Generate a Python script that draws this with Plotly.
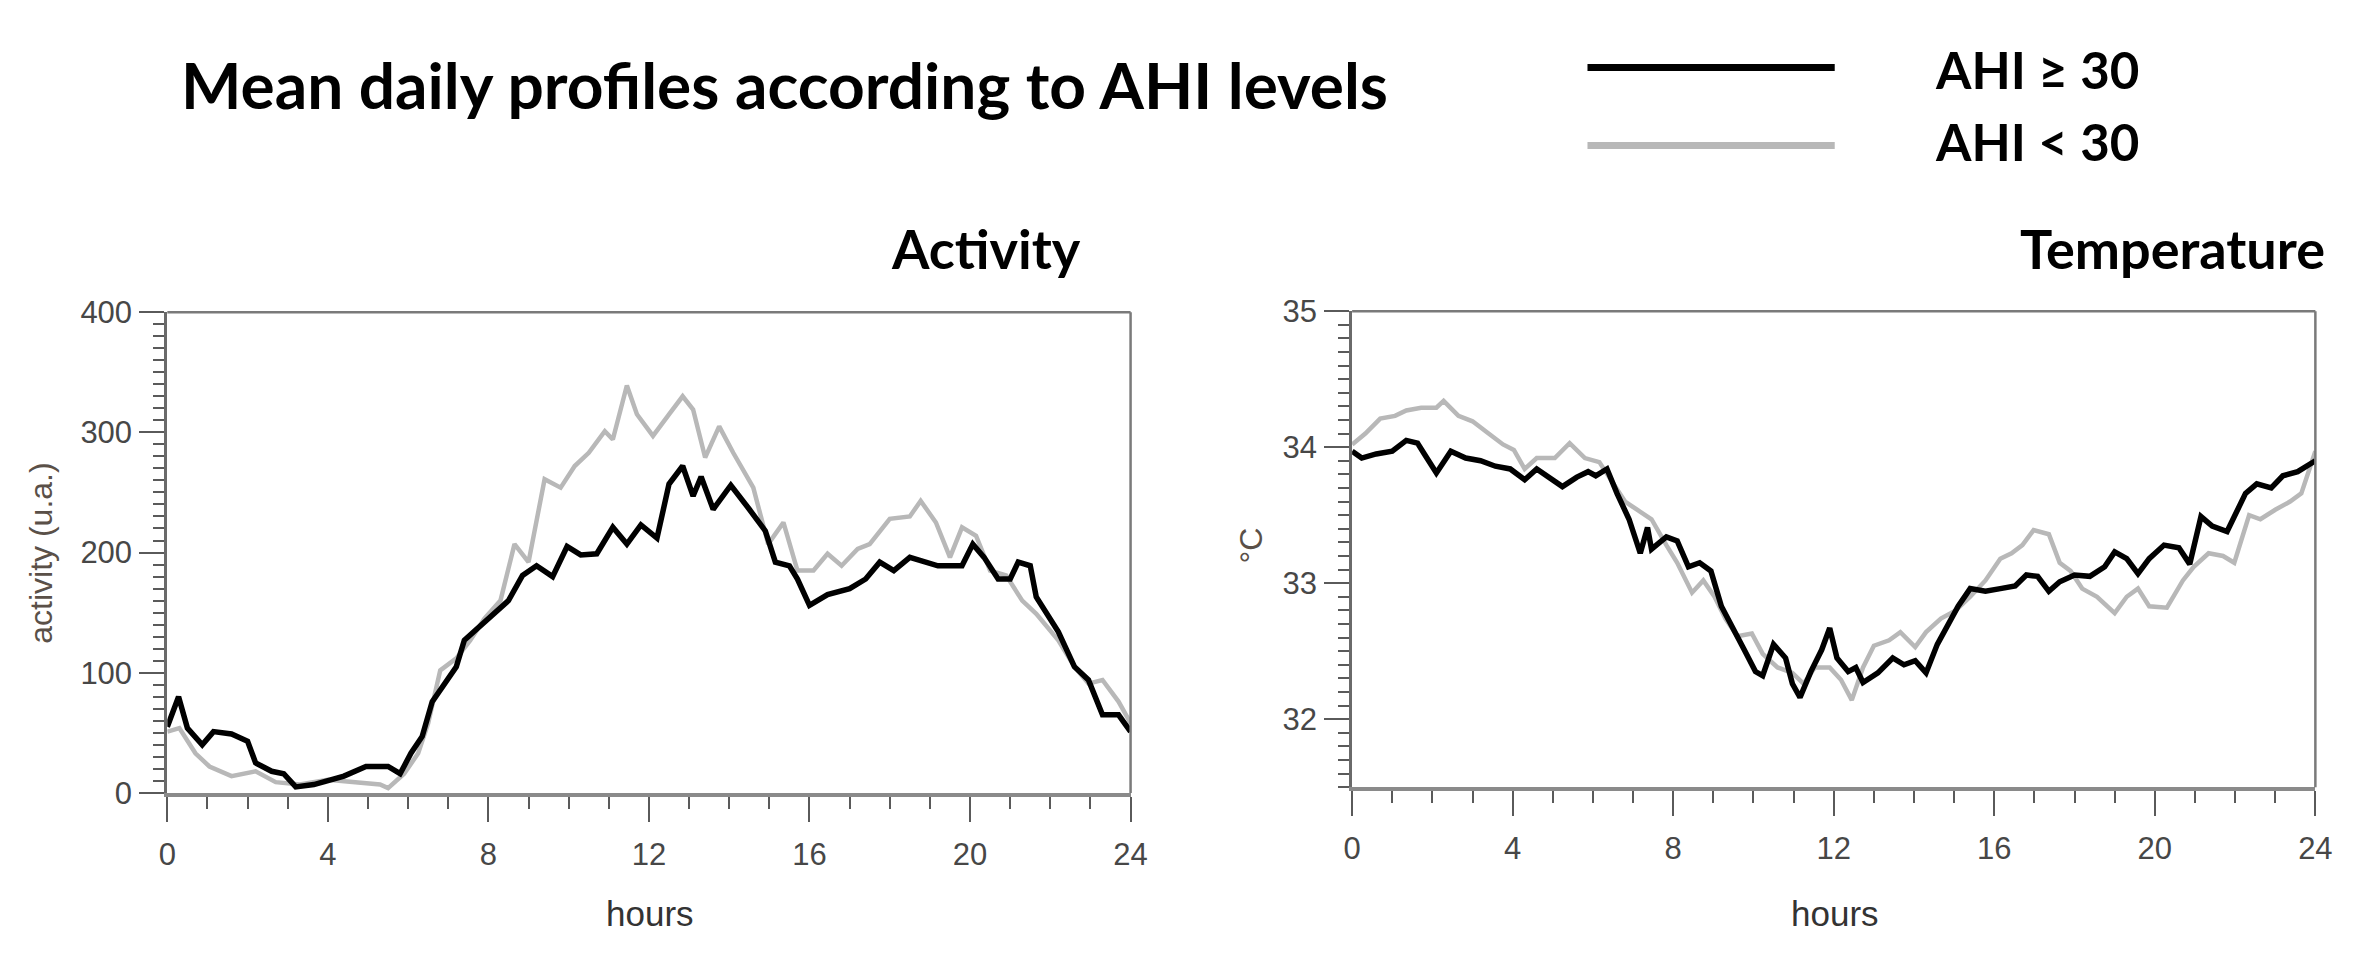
import plotly.graph_objects as go

# ---------------- data ----------------
act_hi_h = [0,0.28,0.5,0.87,1.15,1.6,2.0,2.2,2.6,2.9,3.2,3.65,4.4,4.95,5.5,5.8,6.07,6.35,6.6,6.9,
            7.2,7.4,7.75,8.1,8.5,8.85,9.2,9.6,9.96,10.3,10.7,11.1,11.45,11.8,12.2,12.5,12.84,13.1,13.3,13.6,
            14.04,14.5,14.9,15.15,15.5,15.7,16.0,16.45,17.0,17.4,17.75,18.1,18.5,19.2,19.8,20.07,20.35,20.7,21.0,21.2,
            21.5,21.65,21.9,22.2,22.6,22.95,23.3,23.7,24]
act_hi_v = [55,80,54,40,51,49,43,25,18,16,5,7,14,22,22,16,33,47,76,91,
            105,127,138,149,160,181,189,180,205,198,199,221,207,223,212,257,272,247,263,236,
            256,236,218,192,189,178,156,165,170,178,192,185,196,189,189,207,196,178,178,192,
            189,163,149,134,105,94,65,65,51]

act_lo_h = [0,0.3,0.7,1.05,1.6,2.2,2.7,3.3,4.0,4.77,5.3,5.5,5.9,6.25,6.5,6.8,7.2,7.55,7.9,8.3,
            8.65,9.0,9.4,9.8,10.15,10.5,10.9,11.1,11.45,11.7,12.1,12.5,12.84,13.1,13.4,13.75,14.1,14.6,14.97,15.35,
            15.7,16.1,16.45,16.8,17.2,17.5,18.0,18.5,18.77,19.15,19.5,19.8,20.15,20.5,20.9,21.3,21.65,22.2,22.6,22.95,
            23.3,23.7,24]
act_lo_v = [51,54,33,22,14,18,9,7,11,9,7,4,16,33,58,102,112,127,145,160,
            207,192,261,254,272,283,301,294,339,315,297,315,330,319,279,305,283,254,207,225,
            185,185,199,189,203,207,228,230,243,225,196,221,214,185,181,160,149,127,105,91,
            94,76,58]

tmp_hi_h = [0,0.24,0.6,1.0,1.35,1.63,1.8,2.1,2.46,2.83,3.2,3.57,3.94,4.3,4.6,4.87,5.24,5.6,5.88,6.07,
            6.35,6.6,6.9,7.18,7.36,7.46,7.83,8.1,8.38,8.66,8.94,9.2,9.5,9.77,10.05,10.23,10.5,10.8,10.97,11.16,
            11.43,11.7,11.9,12.08,12.36,12.55,12.73,13.1,13.47,13.75,14.03,14.3,14.58,14.86,15.1,15.4,15.78,16.15,16.52,16.8,
            17.08,17.36,17.63,18.0,18.38,18.75,19.0,19.3,19.58,19.86,20.23,20.6,20.87,21.15,21.43,21.8,22.08,22.26,22.54,22.9,
            23.19,23.56,24]
tmp_hi_v = [33.97,33.92,33.95,33.97,34.05,34.03,33.95,33.81,33.97,33.92,33.90,33.86,33.84,33.76,33.84,33.79,33.71,33.78,33.82,33.79,
            33.84,33.66,33.47,33.22,33.41,33.25,33.34,33.31,33.12,33.15,33.09,32.83,32.67,32.51,32.35,32.32,32.55,32.45,32.26,32.16,
            32.35,32.51,32.67,32.45,32.35,32.38,32.27,32.34,32.45,32.40,32.43,32.34,32.55,32.71,32.83,32.96,32.94,32.96,32.98,33.06,
            33.05,32.94,33.01,33.06,33.05,33.12,33.23,33.18,33.07,33.18,33.28,33.26,33.14,33.49,33.42,33.38,33.54,33.66,33.73,33.70,
            33.79,33.82,33.90]

tmp_lo_h = [0,0.33,0.7,1.07,1.35,1.72,2.1,2.28,2.65,3.0,3.4,3.76,4.03,4.3,4.6,5.05,5.42,5.8,6.16,6.53,
            6.8,7.1,7.46,7.83,8.1,8.47,8.75,9.03,9.3,9.6,9.96,10.23,10.6,10.97,11.25,11.53,11.9,12.18,12.45,12.73,
            13.0,13.38,13.66,14.03,14.3,14.67,15.04,15.4,15.78,16.15,16.43,16.7,16.98,17.36,17.63,17.9,18.19,18.56,19.0,19.3,
            19.58,19.86,20.3,20.7,20.97,21.34,21.7,21.98,22.35,22.63,23.0,23.37,23.65,24]
tmp_lo_v = [34.02,34.10,34.21,34.23,34.27,34.29,34.29,34.34,34.23,34.19,34.10,34.02,33.98,33.84,33.92,33.92,34.03,33.92,33.89,33.73,
            33.60,33.54,33.47,33.28,33.15,32.93,33.02,32.90,32.74,32.61,32.63,32.48,32.38,32.34,32.26,32.38,32.38,32.29,32.14,32.38,
            32.54,32.58,32.64,32.53,32.64,32.74,32.80,32.90,33.02,33.18,33.22,33.28,33.39,33.36,33.15,33.09,32.96,32.90,32.78,32.90,
            32.96,32.83,32.82,33.02,33.12,33.22,33.20,33.15,33.50,33.47,33.54,33.60,33.66,33.97]

series_names = ["AHI ≥ 30", "AHI < 30"]
x_ticks = [0, 4, 8, 12, 16, 20, 24]
act_ticks = [0, 100, 200, 300, 400]
tmp_ticks = [32, 33, 34, 35]

# ---------------- styling ----------------
W, H = 2357, 960
BLACK = "#000000"
GREY = "#b8b8b8"
TICKFONT = dict(family="Liberation Sans, Arial, sans-serif", size=31, color="#474747")
HEAD = "Lato, 'Open Sans', sans-serif"

fig = go.Figure()
fig.add_trace(go.Scatter(x=act_lo_h, y=act_lo_v, mode="lines", line=dict(color=GREY, width=4.5),
                         name=series_names[1], showlegend=False, xaxis="x", yaxis="y"))
fig.add_trace(go.Scatter(x=act_hi_h, y=act_hi_v, mode="lines", line=dict(color=BLACK, width=5.5),
                         name=series_names[0], showlegend=False, xaxis="x", yaxis="y"))
fig.add_trace(go.Scatter(x=tmp_lo_h, y=tmp_lo_v, mode="lines", line=dict(color=GREY, width=4.5),
                         name=series_names[1], showlegend=False, xaxis="x2", yaxis="y2"))
fig.add_trace(go.Scatter(x=tmp_hi_h, y=tmp_hi_v, mode="lines", line=dict(color=BLACK, width=5.5),
                         name=series_names[0], showlegend=False, xaxis="x2", yaxis="y2"))

def px_x(p):
    return p / W

def px_y(p):
    return 1 - p / H

xcommon = dict(range=[0, 24], tickvals=x_ticks, ticks="outside", ticklen=25, tickwidth=2,
               tickcolor="#5a5a5a", showline=True, linewidth=4, linecolor="#8a8a8a",
               showgrid=False, zeroline=False, tickfont=TICKFONT, ticklabelstandoff=6,
               minor=dict(dtick=1, ticks="outside", ticklen=12, tickwidth=2, tickcolor="#5a5a5a"))
ycommon = dict(ticks="outside", ticklen=25, tickwidth=2, tickcolor="#5a5a5a",
               showline=True, linewidth=3, linecolor="#6a6a6a", showgrid=False, zeroline=False,
               tickfont=TICKFONT, ticklabelstandoff=1)

fig.update_layout(
    width=W, height=H, margin=dict(l=0, r=0, t=0, b=0),
    paper_bgcolor="white", plot_bgcolor="white", showlegend=False,
    xaxis=dict(domain=[px_x(152), px_x(1126)], anchor="y", **xcommon),
    yaxis=dict(domain=[px_y(797), px_y(298)], anchor="x", range=[0, 400], tickvals=act_ticks,
               minor=dict(dtick=10, ticks="outside", ticklen=11, tickwidth=2, tickcolor="#5a5a5a"),
               **ycommon),
    xaxis2=dict(domain=[px_x(1350), px_x(2324)], anchor="y2", **xcommon),
    yaxis2=dict(domain=[px_y(791), px_y(297)], anchor="x2", range=[31.5, 35], tickvals=tmp_ticks,
                minor=dict(dtick=0.1, ticks="outside", ticklen=11, tickwidth=2, tickcolor="#5a5a5a"),
                **ycommon),
)

# frame (top + right) for each panel
for xr, yr in [("x domain", "y domain"), ("x2 domain", "y2 domain")]:
    fig.add_shape(type="line", xref=xr, yref=yr, x0=0, x1=1, y0=1, y1=1,
                  line=dict(color="#7a7a7a", width=2.5))
    fig.add_shape(type="line", xref=xr, yref=yr, x0=1, x1=1, y0=0, y1=1,
                  line=dict(color="#7a7a7a", width=2.5))

# legend keys (drawn manually at the top right)
fig.add_shape(type="line", xref="paper", yref="paper", x0=px_x(1588), x1=px_x(1838),
              y0=px_y(44), y1=px_y(44), line=dict(color=BLACK, width=7))
fig.add_shape(type="line", xref="paper", yref="paper", x0=px_x(1588), x1=px_x(1838),
              y0=px_y(125), y1=px_y(125), line=dict(color=GREY, width=7))

ann = []
ann.append(dict(text="<b>Mean daily profiles according to AHI levels</b>", x=px_x(164), y=px_y(62),
                xanchor="left", yanchor="middle", font=dict(family=HEAD, size=64, color="black")))
ann.append(dict(text="<b>" + series_names[0] + "</b>", x=px_x(1937), y=px_y(46),
                xanchor="left", yanchor="middle", font=dict(family=HEAD, size=51, color="black")))
ann.append(dict(text="<b>" + series_names[1] + "</b>", x=px_x(1937), y=px_y(121),
                xanchor="left", yanchor="middle", font=dict(family=HEAD, size=51, color="black")))
ann.append(dict(text="<b>Activity</b>", x=px_x(1078), y=px_y(232),
                xanchor="right", yanchor="middle", font=dict(family=HEAD, size=54, color="black")))
ann.append(dict(text="<b>Temperature</b>", x=px_x(2336), y=px_y(232),
                xanchor="right", yanchor="middle", font=dict(family=HEAD, size=54, color="black")))
ann.append(dict(text="hours", x=px_x(640), y=px_y(922), xanchor="center", yanchor="middle",
                font=dict(family="Liberation Sans, Arial, sans-serif", size=35, color="#333333")))
ann.append(dict(text="hours", x=px_x(1838), y=px_y(922), xanchor="center", yanchor="middle",
                font=dict(family="Liberation Sans, Arial, sans-serif", size=35, color="#333333")))
ann.append(dict(text="activity (u.a.)", x=px_x(24), y=px_y(548), xanchor="center", yanchor="middle",
                textangle=-90, font=dict(family="Liberation Sans, Arial, sans-serif", size=32, color="#5a5048")))
ann.append(dict(text="°C", x=px_x(1248), y=px_y(540), xanchor="center", yanchor="middle",
                textangle=-90, font=dict(family="Liberation Sans, Arial, sans-serif", size=32, color="#5a5048")))
for a in ann:
    a.update(xref="paper", yref="paper", showarrow=False)
fig.update_layout(annotations=ann)

fig.write_html("out.html")
